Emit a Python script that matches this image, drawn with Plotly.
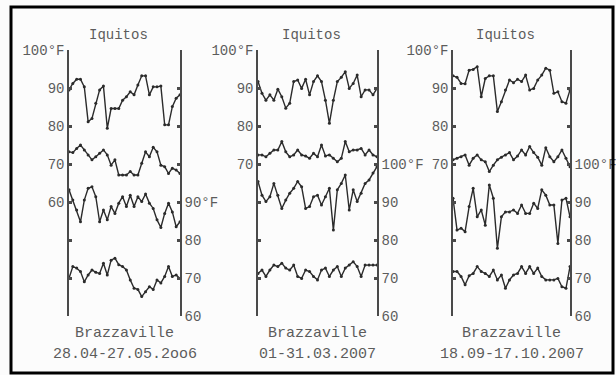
import numpy as np
import plotly.graph_objects as go

# ---------------- data (°F) ----------------
periods = ["28.04-27.05.2oo6", "01-31.03.2007", "18.09-17.10.2007"]

iq_max_1 = [89.5, 91.2, 92.3, 92.3, 90.3, 81.1, 82, 86, 89.5, 90.5, 79.4, 84.6, 84.6, 84.6, 86.8,
            87.7, 89, 88.2, 90.8, 93.2, 93.2, 88.2, 90.3, 90.3, 90.5, 80.3, 80.3, 85.1, 87.3, 88.2]
iq_min_1 = [73.2, 73, 74.1, 75, 73.7, 72.4, 71.1, 71.9, 72.8, 73.7, 72.4, 69.7, 71.1, 67.1, 67.1,
            67.1, 68, 67.1, 67.1, 70.2, 73.2, 71.9, 74.4, 73.2, 69.7, 69.3, 67.5, 68.9, 68.4, 67.5]
bz_max_1 = [93.2, 90.5, 87.9, 84.8, 90.5, 93.6, 94, 91.4, 84.8, 87.9, 85.3, 88.8, 87, 89.7, 91.4,
            88.8, 91.8, 88.8, 91.4, 90.1, 92.1, 89.7, 88.3, 85.3, 83.3, 87, 89.7, 87.4, 83.5, 84.8]
bz_min_1 = [69.9, 73, 72.6, 71.7, 69, 70.8, 72.1, 71.5, 71.2, 73.9, 70.8, 74.7, 75.2, 73.5, 73,
            72.1, 69.5, 67.3, 67, 65.1, 66.4, 67.7, 67, 69.5, 68.7, 70.4, 73, 70.4, 70.8, 69.9]

iq_max_2 = [91.7, 88.6, 86.8, 88.2, 86.8, 89.7, 87.7, 84.7, 86, 91.7, 92.1, 89.9, 92.3, 88.2, 91.7,
            93.2, 91.7, 86.8, 80.7, 86.8, 91.7, 92.8, 94.3, 89.9, 91.2, 93.4, 87.7, 89.5, 89.5, 88.2, 89.9]
iq_min_2 = [72.4, 72.4, 71.9, 72.8, 73.7, 73.7, 75.9, 73.2, 71.9, 72.4, 73.7, 72.4, 72.1, 71.5, 72.8,
            71.9, 75, 72.1, 72.4, 71.5, 70.6, 71.5, 75.9, 73.2, 73.7, 73.7, 74.1, 72.4, 73.7, 72.4, 71.9]
bz_max_2 = [95.4, 91.8, 90.1, 91.4, 94.9, 91.8, 88.3, 90.5, 92.3, 93.6, 95.4, 94, 88.3, 88.8, 91.4,
            91.8, 89.2, 91.4, 93.6, 82.6, 93.2, 94.9, 97.1, 87.9, 93.2, 90.1, 92.3, 94.9, 95.8, 97.6, 99.3]
bz_min_2 = [71.2, 72.1, 70.4, 72.1, 73.4, 73, 73.9, 72.6, 72.1, 73.4, 70.4, 69.9, 72.1, 71.7, 70.4,
            69.5, 72.1, 72.6, 70.4, 72.1, 73, 70.4, 72.6, 73.4, 74.3, 73, 70.4, 73.4, 73.4, 73.4, 73.4]

iq_max_3 = [93.2, 92.8, 91.2, 91.1, 94.7, 94.9, 95.6, 87.7, 92.5, 93.2, 93.2, 83.8, 86.4, 89.5, 92.1,
            91.4, 92.3, 91.7, 93.4, 89.5, 89.9, 92.1, 93.4, 95.2, 94.7, 88.6, 89, 86.4, 86, 89.5]
iq_min_3 = [71.1, 71.5, 71.9, 72.4, 69.7, 71.5, 72.4, 71.1, 70.6, 68, 69.7, 71.1, 71.8, 72.4, 73,
            71.1, 72.1, 73.7, 72.4, 74.6, 73, 71.8, 69.7, 74.3, 71.9, 70.6, 71.9, 73.7, 71.5, 69.3]
bz_max_3 = [91, 82.6, 83.1, 82.2, 88.8, 93.6, 86.1, 87.9, 83.9, 94.5, 91, 77.8, 86.1, 87.4, 87.4,
            87.9, 87, 89.2, 87, 87, 89.7, 88.3, 93.2, 91.8, 89.2, 89.2, 79.1, 90.5, 91, 86.1]
bz_min_3 = [71.7, 71.7, 70.4, 68.2, 70.6, 71.2, 73, 71.7, 71.2, 70.4, 72.1, 69.5, 70.8, 67.3, 69.5,
            70.8, 71.2, 73, 71.2, 73, 71.2, 72.6, 70.4, 69.5, 69.5, 69.5, 69.9, 67.7, 67.3, 73]

# tick levels on the shared vertical scale (Iquitos scale); Brazzaville is drawn 30°F lower
levels = [100, 90, 80, 70, 60, 50, 40, 30]
left_text_1 = ["100°F", "90", "80", "70", "60", "", "", ""]
left_text_23 = ["100°F", "90", "80", "70", "", "", "", ""]
right_text_1 = ["", "", "", "", "90°F", "80", "70", "60"]
right_text_23 = ["", "", "", "100°F", "90", "80", "70", "60"]
BZ_OFFSET = 30

panels = [
    (iq_max_1, iq_min_1, bz_max_1, bz_min_1),
    (iq_max_2, iq_min_2, bz_max_2, bz_min_2),
    (iq_max_3, iq_min_3, bz_max_3, bz_min_3),
]

W, H = 616, 375
xpix = [(69, 180), (258, 377), (453, 570)]
ytop, ybot = 50, 316
ydom = [(H - ybot) / H, (H - ytop) / H]

TXT = "#5c5c5c"
LINE = "#2b2b2b"
AX = "#4a4a4a"
FONT = "Liberation Mono"

fig = go.Figure()

for i, series in enumerate(panels):
    xa = "x" if i == 0 else f"x{i + 1}"
    ya = "y" if i == 0 else f"y{2 * i + 1}"
    for j, s in enumerate(series):
        vals = np.array(s, dtype=float)
        if j >= 2:
            vals = vals - BZ_OFFSET
        fig.add_trace(go.Scatter(
            x=list(range(len(vals))), y=vals, mode="lines+markers",
            line=dict(color=LINE, width=1.4), marker=dict(color=LINE, size=3),
            xaxis=xa, yaxis=ya, showlegend=False, hoverinfo="skip"))
    # invisible trace so the right-hand (Brazzaville) axis is drawn
    fig.add_trace(go.Scatter(x=[0], y=[None], mode="markers", xaxis=xa, yaxis=f"y{2 * i + 2}",
                             showlegend=False, hoverinfo="skip", marker=dict(opacity=0)))

layout = dict(
    width=W, height=H, margin=dict(l=0, r=0, t=0, b=0),
    paper_bgcolor="#fcfcfc", plot_bgcolor="rgba(0,0,0,0)",
    font=dict(family=FONT, color=TXT, size=14),
)

for i, series in enumerate(panels):
    n = len(series[0])
    x0, x1 = xpix[i]
    xkey = "xaxis" if i == 0 else f"xaxis{i + 1}"
    layout[xkey] = dict(domain=[x0 / W, x1 / W], range=[0, n - 1], visible=False,
                        anchor="y" if i == 0 else f"y{2 * i + 1}")
    lkey = "yaxis" if i == 0 else f"yaxis{2 * i + 1}"
    rkey = f"yaxis{2 * i + 2}"
    lid = "y" if i == 0 else f"y{2 * i + 1}"
    xid = "x" if i == 0 else f"x{i + 1}"
    common = dict(range=[30, 100], domain=ydom, showline=True, linecolor=AX, linewidth=1.5,
                  showgrid=False, zeroline=False, tickvals=levels, ticks="inside",
                  ticklen=3, tickwidth=2.5, tickcolor=AX, automargin=False,
                  tickfont=dict(family=FONT, size=14, color=TXT))
    layout[lkey] = dict(common, anchor=xid, side="left",
                        ticktext=left_text_1 if i == 0 else left_text_23)
    layout[rkey] = dict(common, anchor=xid, side="right", overlaying=lid,
                        ticktext=right_text_1 if i == 0 else right_text_23)

fig.update_layout(**layout)

annotations = []
for i in range(3):
    x0, x1 = xpix[i]
    cx = (x0 + x1) / 2 / W
    annotations.append(dict(text="Iquitos", x=cx - 6 / W, y=(H - 35) / H, xref="paper", yref="paper",
                            xanchor="center", yanchor="middle", showarrow=False,
                            font=dict(family=FONT, size=14, color=TXT)))
    annotations.append(dict(text="Brazzaville", x=cx, y=(H - 333) / H, xref="paper", yref="paper",
                            xanchor="center", yanchor="middle", showarrow=False,
                            font=dict(family=FONT, size=15, color=TXT)))
    annotations.append(dict(text=periods[i], x=cx, y=(H - 354) / H, xref="paper", yref="paper",
                            xanchor="center", yanchor="middle", showarrow=False,
                            font=dict(family=FONT, size=15, color=TXT)))
fig.update_layout(annotations=annotations)

fig.add_shape(type="rect", xref="paper", yref="paper",
              x0=11 / W, x1=613 / W, y0=(H - 373) / H, y1=(H - 7) / H,
              line=dict(color="black", width=3), fillcolor="rgba(0,0,0,0)", layer="above")

fig.write_html("out.html")
